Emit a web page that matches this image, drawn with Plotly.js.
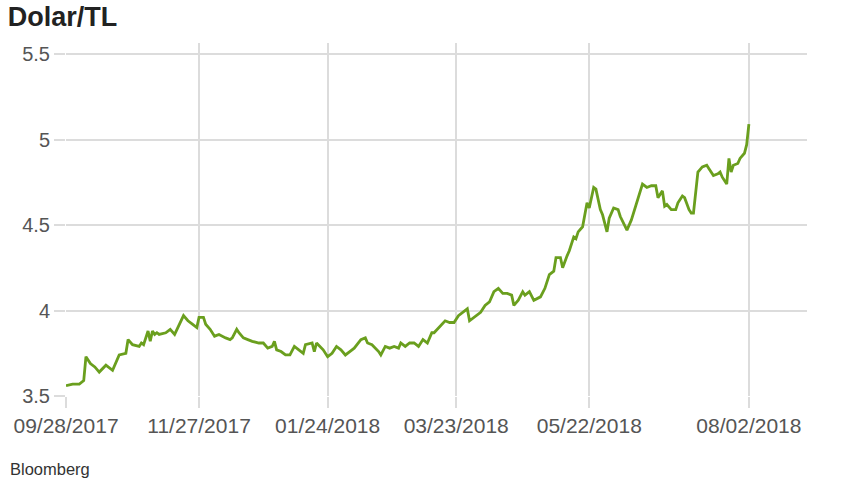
<!DOCTYPE html>
<html>
<head>
<meta charset="utf-8">
<script src="https://cdn.plot.ly/plotly-3.0.1.min.js"></script>
<style>html,body{margin:0;padding:0;background:#fff;}#chart{width:860px;height:480px;}</style>
</head>
<body>
<div id="chart"></div>
<script>
const dates = [
"2017-09-28","2017-10-01","2017-10-04","2017-10-06","2017-10-07","2017-10-09","2017-10-11","2017-10-13","2017-10-16","2017-10-19",
"2017-10-22","2017-10-25","2017-10-26","2017-10-28","2017-10-31","2017-11-01","2017-11-02","2017-11-04","2017-11-05","2017-11-06",
"2017-11-07","2017-11-08","2017-11-09","2017-11-12","2017-11-14","2017-11-16","2017-11-20","2017-11-22","2017-11-24","2017-11-26",
"2017-11-27","2017-11-29","2017-11-30","2017-12-02","2017-12-04","2017-12-06","2017-12-09","2017-12-11","2017-12-12","2017-12-14",
"2017-12-15","2017-12-17","2017-12-19","2017-12-21","2017-12-24","2017-12-26","2017-12-28","2017-12-30","2017-12-31","2018-01-01",
"2018-01-03","2018-01-05","2018-01-07","2018-01-09","2018-01-11","2018-01-13","2018-01-14","2018-01-17","2018-01-18","2018-01-19",
"2018-01-22","2018-01-24","2018-01-26","2018-01-28","2018-01-30","2018-02-01","2018-02-03","2018-02-05","2018-02-08","2018-02-10",
"2018-02-11","2018-02-13","2018-02-16","2018-02-17","2018-02-19","2018-02-21","2018-02-23","2018-02-25","2018-02-26","2018-02-28",
"2018-03-02","2018-03-04","2018-03-06","2018-03-08","2018-03-10","2018-03-12","2018-03-13","2018-03-16","2018-03-18","2018-03-20",
"2018-03-22","2018-03-24","2018-03-26","2018-03-28","2018-03-29","2018-03-31","2018-04-03","2018-04-05","2018-04-07","2018-04-09",
"2018-04-11","2018-04-13","2018-04-15","2018-04-17","2018-04-18","2018-04-20","2018-04-22","2018-04-23","2018-04-25","2018-04-27",
"2018-04-30","2018-05-02","2018-05-04","2018-05-06","2018-05-07","2018-05-09","2018-05-10","2018-05-12","2018-05-13","2018-05-15",
"2018-05-16","2018-05-17","2018-05-19","2018-05-21","2018-05-22","2018-05-24","2018-05-25","2018-05-27","2018-05-28","2018-05-30",
"2018-05-31","2018-06-02","2018-06-04","2018-06-05","2018-06-07","2018-06-08","2018-06-10","2018-06-12","2018-06-14","2018-06-15",
"2018-06-17","2018-06-19","2018-06-21","2018-06-22","2018-06-24","2018-06-25","2018-06-26","2018-06-28","2018-06-30","2018-07-01",
"2018-07-03","2018-07-04","2018-07-06","2018-07-07","2018-07-08","2018-07-10","2018-07-12","2018-07-14","2018-07-15","2018-07-17",
"2018-07-19","2018-07-20","2018-07-21","2018-07-23","2018-07-24","2018-07-25","2018-07-26","2018-07-28","2018-07-29","2018-07-31",
"2018-08-01","2018-08-02"
];
const usdTry = [
3.56,3.57,3.57,3.59,3.73,3.69,3.67,3.64,3.68,3.65,
3.74,3.75,3.83,3.80,3.79,3.81,3.80,3.88,3.82,3.88,
3.86,3.87,3.86,3.87,3.89,3.86,3.97,3.94,3.92,3.90,
3.96,3.96,3.92,3.89,3.85,3.86,3.84,3.83,3.84,3.89,
3.87,3.84,3.83,3.82,3.81,3.81,3.78,3.79,3.82,3.77,
3.76,3.74,3.74,3.79,3.77,3.75,3.80,3.81,3.76,3.81,
3.77,3.73,3.75,3.79,3.77,3.74,3.76,3.78,3.83,3.84,
3.81,3.80,3.76,3.74,3.79,3.78,3.79,3.78,3.81,3.79,
3.81,3.81,3.79,3.83,3.81,3.87,3.87,3.91,3.94,3.93,
3.93,3.97,3.99,4.01,3.94,3.96,3.99,4.03,4.05,4.11,
4.13,4.10,4.10,4.09,4.03,4.06,4.11,4.09,4.11,4.06,
4.08,4.13,4.21,4.23,4.31,4.31,4.25,4.32,4.35,4.43,
4.42,4.46,4.49,4.63,4.60,4.72,4.71,4.59,4.56,4.46,
4.54,4.60,4.59,4.55,4.50,4.47,4.53,4.62,4.71,4.74,
4.72,4.73,4.73,4.66,4.70,4.61,4.62,4.59,4.59,4.63,
4.67,4.66,4.59,4.57,4.57,4.81,4.84,4.85,4.83,4.79,
4.80,4.81,4.78,4.74,4.89,4.81,4.85,4.86,4.89,4.92,
4.97,5.09
];
const xTickVals = ["2017-09-28","2017-11-27","2018-01-24","2018-03-23","2018-05-22","2018-08-02"];
const xTickText = ["09/28/2017","11/27/2017","01/24/2018","03/23/2018","05/22/2018","08/02/2018"];
const yTickVals = [3.5,4,4.5,5,5.5];
const yTickText = ["3.5","4","4.5","5","5.5"];

const trace = {
  type: 'scatter', mode: 'lines',
  x: dates, y: usdTry,
  line: {color: '#6a9f1e', width: 2.8},
  hoverinfo: 'x+y'
};
const gridCol = '#dcdcdc';
const layout = {
  width: 860, height: 480,
  margin: {l: 66, r: 53, t: 43, b: 83.5},
  paper_bgcolor: '#fff', plot_bgcolor: '#fff',
  showlegend: false,
  font: {family: 'Liberation Sans, Arial, sans-serif', color: '#555'},
  title: {
    text: '<b>Dolar/TL</b>',
    font: {family: 'Liberation Sans, Arial, sans-serif', size: 27, color: '#222'},
    x: 0.009, xanchor: 'left', xref: 'container',
    y: 0.966, yanchor: 'middle', yref: 'container'
  },
  xaxis: {
    type: 'date',
    range: ['2017-09-28', '2018-08-28 05:00'],
    tickvals: xTickVals, ticktext: xTickText,
    showgrid: true, gridcolor: gridCol, gridwidth: 2,
    ticks: 'outside', ticklen: 11, tickwidth: 2, tickcolor: gridCol,
    showline: false, zeroline: false,
    tickfont: {size: 21, color: '#555'}
  },
  yaxis: {
    range: [3.5, 5.565],
    tickvals: yTickVals, ticktext: yTickText,
    showgrid: true, gridcolor: gridCol, gridwidth: 2,
    ticks: 'outside', ticklen: 11, tickwidth: 2, tickcolor: gridCol,
    showline: false, zeroline: false,
    tickfont: {size: 20, color: '#555'}
  },
  annotations: [{
    text: 'Bloomberg', showarrow: false,
    xref: 'paper', yref: 'paper',
    x: -0.078, y: -0.208, xanchor: 'left', yanchor: 'middle',
    font: {size: 16.5, color: '#333', family: 'Liberation Sans, Arial, sans-serif'}
  }]
};
Plotly.newPlot('chart', [trace], layout, {displayModeBar: false, staticPlot: true});
</script>
</body>
</html>
